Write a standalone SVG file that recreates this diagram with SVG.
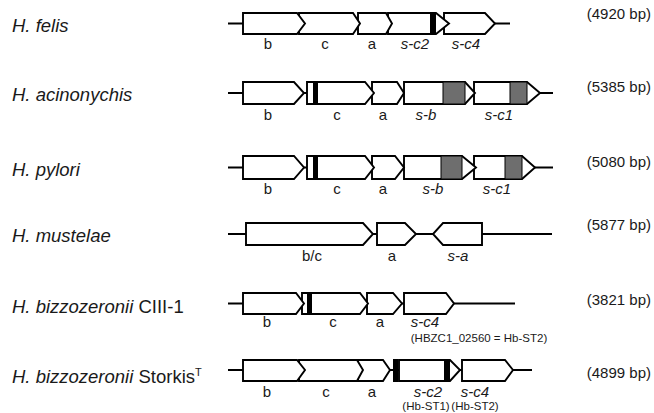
<svg xmlns="http://www.w3.org/2000/svg" width="654" height="413" viewBox="0 0 654 413">
<style>
.bg{fill:#fff}
.ln{stroke:#000;stroke-width:2.2;fill:none}
.g{fill:#fff;stroke:#000;stroke-width:1.9;stroke-linejoin:miter}
.bar{fill:#000}
.gr{fill:#6e6e6e;stroke:#000;stroke-width:1}
text{font-family:"Liberation Sans",Arial,sans-serif;fill:#1a1a1a}
.sp{font-size:18.5px;font-style:italic}
.rg{font-style:normal}
.lb{font-size:15px;text-anchor:middle}
.it{font-style:italic}
.bp{font-size:15px;text-anchor:end}
.sm{font-size:11.5px;text-anchor:middle}
</style>
<rect class="bg" x="0" y="0" width="654" height="413"/>
<g id="connectors">
<line class="ln" x1="228" y1="23.5" x2="510" y2="23.5"/>
<line class="ln" x1="228" y1="93" x2="553" y2="93"/>
<line class="ln" x1="228" y1="167.5" x2="553" y2="167.5"/>
<line class="ln" x1="228" y1="234" x2="552" y2="234"/>
<line class="ln" x1="228" y1="303.5" x2="515" y2="303.5"/>
<line class="ln" x1="228" y1="370" x2="532" y2="370"/>
</g>
<!-- Row 1: H. felis -->
<g id="felis">
<text class="sp" x="12" y="32">H. felis</text>
<g id="felis-sc4"><polygon class="g" points="444,13 485,13 495,23.5 485,34 444,34"/></g>
<g id="felis-sc2"><polygon class="g" points="388,13 436,13 449,23.5 436,34 388,34"/><rect class="bar" x="430" y="13" width="6" height="21"/></g>
<g id="felis-a"><polygon class="g" points="358,13 386,13 392,23.5 386,34 358,34"/></g>
<g id="felis-c"><polygon class="g" points="299,13 353,13 360,23.5 353,34 299,34"/></g>
<g id="felis-b"><polygon class="g" points="243,13 297,13 305,23.5 297,34 243,34"/></g>
<text class="lb" x="268" y="49">b</text>
<text class="lb" x="325" y="49">c</text>
<text class="lb" x="372" y="49">a</text>
<text class="lb it" x="415" y="49">s-c2</text>
<text class="lb it" x="466" y="49">s-c4</text>
<text class="bp" x="651" y="19">(4920 bp)</text>
</g>
<!-- Row 2: H. acinonychis -->
<g id="acinonychis">
<text class="sp" x="12" y="101">H. acinonychis</text>
<g id="acin-sc1"><polygon class="g" points="474,82 527,82 540,93 527,104 474,104"/><rect class="gr" x="510" y="82" width="17" height="22"/></g>
<g id="acin-sb"><polygon class="g" points="404,82 465,82 475,93 465,104 404,104"/><rect class="gr" x="443" y="82" width="22" height="22"/></g>
<g id="acin-a"><polygon class="g" points="372,82 397,82 404,93 397,104 372,104"/></g>
<g id="acin-c"><polygon class="g" points="307,82 365,82 374,93 365,104 307,104"/><rect class="bar" x="313" y="82" width="5" height="22"/></g>
<g id="acin-b"><polygon class="g" points="243,82 294,82 304,93 294,104 243,104"/></g>
<text class="lb" x="268" y="120">b</text>
<text class="lb" x="337" y="120">c</text>
<text class="lb" x="383" y="120">a</text>
<text class="lb it" x="426" y="120">s-b</text>
<text class="lb it" x="499" y="120">s-c1</text>
<text class="bp" x="651" y="92">(5385 bp)</text>
</g>
<!-- Row 3: H. pylori -->
<g id="pylori">
<text class="sp" x="12" y="176">H. pylori</text>
<g id="pyl-sc1"><polygon class="g" points="474,156 522,156 535,167.5 522,179 474,179"/><rect class="gr" x="505" y="156" width="17" height="23"/></g>
<g id="pyl-sb"><polygon class="g" points="404,156 462,156 476,167.5 462,179 404,179"/><rect class="gr" x="441" y="156" width="21" height="23"/></g>
<g id="pyl-a"><polygon class="g" points="372,156 395,156 404,167.5 395,179 372,179"/></g>
<g id="pyl-c"><polygon class="g" points="307,156 365,156 374,167.5 365,179 307,179"/><rect class="bar" x="313" y="156" width="5" height="23"/></g>
<g id="pyl-b"><polygon class="g" points="243,156 294,156 304,167.5 294,179 243,179"/></g>
<text class="lb" x="268" y="194">b</text>
<text class="lb" x="337" y="194">c</text>
<text class="lb" x="383" y="194">a</text>
<text class="lb it" x="433" y="194">s-b</text>
<text class="lb it" x="497" y="194">s-c1</text>
<text class="bp" x="651" y="167">(5080 bp)</text>
</g>
<!-- Row 4: H. mustelae -->
<g id="mustelae">
<text class="sp" x="12" y="242">H. mustelae</text>
<g id="mus-sa"><polygon class="g" points="482,223 443,223 433,234 443,245 482,245"/></g>
<g id="mus-a"><polygon class="g" points="377,223 405,223 416,234 405,245 377,245"/></g>
<g id="mus-bc"><polygon class="g" points="246,223 363,223 373,234 363,245 246,245"/></g>
<text class="lb" x="312" y="261">b/c</text>
<text class="lb" x="392" y="261">a</text>
<text class="lb it" x="458" y="261">s-a</text>
<text class="bp" x="651" y="230">(5877 bp)</text>
</g>
<!-- Row 5: H. bizzozeronii CIII-1 -->
<g id="ciii1">
<text class="sp" x="12" y="313">H. bizzozeronii<tspan class="rg"> CIII-1</tspan></text>
<g id="ciii-sc4"><polygon class="g" points="404,293 446,293 454,303.5 446,314 404,314"/></g>
<g id="ciii-a"><polygon class="g" points="367,293 393,293 402,303.5 393,314 367,314"/></g>
<g id="ciii-c"><polygon class="g" points="302,293 360,293 368,303.5 360,314 302,314"/><rect class="bar" x="307" y="293" width="5" height="21"/></g>
<g id="ciii-b"><polygon class="g" points="243,293 296,293 304,303.5 296,314 243,314"/></g>
<text class="lb" x="267" y="327">b</text>
<text class="lb" x="333" y="327">c</text>
<text class="lb" x="380" y="327">a</text>
<text class="lb it" x="425" y="327">s-c4</text>
<text class="sm" x="479" y="342">(HBZC1_02560 = Hb-ST2)</text>
<text class="bp" x="651" y="305">(3821 bp)</text>
</g>
<!-- Row 6: H. bizzozeronii Storkis -->
<g id="storkis">
<text class="sp" x="12" y="383">H. bizzozeronii<tspan class="rg"> Storkis</tspan><tspan class="rg" font-size="11" dy="-7">T</tspan></text>
<g id="stk-sc4"><polygon class="g" points="462,360 505,360 513,370 505,381 462,381"/></g>
<g id="stk-sc2"><polygon class="g" points="399,360 450,360 460,370 450,381 399,381"/><rect class="bar" x="444" y="360" width="6" height="21"/></g>
<g id="stk-bar"><rect class="bar" x="393" y="359" width="5" height="23"/></g>
<g id="stk-a"><polygon class="g" points="358,360 383,360 390,370 383,381 358,381"/></g>
<g id="stk-c"><polygon class="g" points="299,360 357,360 363,370 357,381 299,381"/></g>
<g id="stk-b"><polygon class="g" points="243,360 297,360 305,370 297,381 243,381"/></g>
<text class="lb" x="267" y="397">b</text>
<text class="lb" x="326" y="397">c</text>
<text class="lb" x="372" y="397">a</text>
<text class="lb it" x="428" y="397">s-c2</text>
<text class="lb it" x="475" y="397">s-c4</text>
<text class="sm" x="426" y="410">(Hb-ST1)</text>
<text class="sm" x="475" y="410">(Hb-ST2)</text>
<text class="bp" x="651" y="378">(4899 bp)</text>
</g>
</svg>
